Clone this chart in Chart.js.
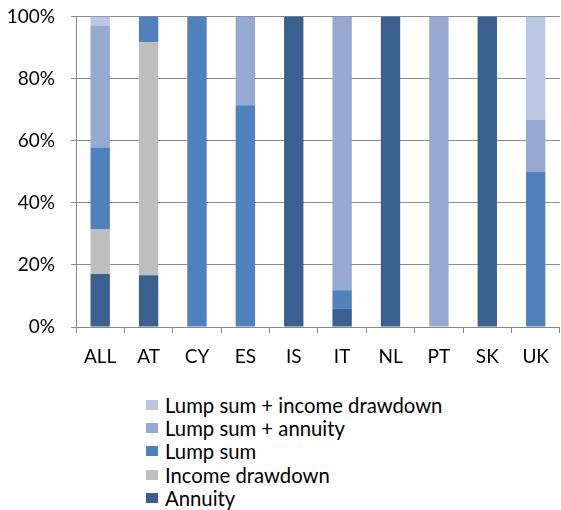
<!DOCTYPE html>
<html>
<head>
<meta charset="utf-8">
<script src="https://cdn.jsdelivr.net/npm/chart.js@4.4.1/dist/chart.umd.min.js"></script>
<style>
  html, body { margin: 0; padding: 0; background: #fff; overflow: hidden; }
  #wrap { position: relative; width: 561px; height: 510px; overflow: hidden; }
  #chartBox { position: absolute; left: 0; top: -11px; width: 561px; height: 391px; }
  #legend { position: absolute; left: 146px; top: 393px; font-family: Lato, "Noto Sans", sans-serif; font-size: 20.3px; color: #000; }
  .item { height: 23.4px; display: flex; align-items: center; white-space: nowrap; }
  .sw { width: 12px; height: 10px; margin-right: 7px; flex: none; }
</style>
</head>
<body>
<div id="wrap">
  <div id="chartBox"><canvas id="c"></canvas></div>
  <div id="legend"></div>
</div>
<script>
const categories = ['ALL', 'AT', 'CY', 'ES', 'IS', 'IT', 'NL', 'PT', 'SK', 'UK'];
const annuity        = [17.1, 16.7, 0,   0,    100, 5.9,  100, 0,   100, 0];
const incomeDrawdown = [14.3, 75.0, 0,   0,    0,   0,    0,   0,   0,   0];
const lumpSum        = [26.4, 8.3,  100, 71.4, 0,   5.9,  0,   0,   0,   50.0];
const lumpAnnuity    = [39.3, 0,    0,   28.6, 0,   88.2, 0,   100, 0,   16.7];
const lumpDrawdown   = [2.9,  0,    0,   0,    0,   0,    0,   0,   0,   33.3];
const yTicks = [0, 20, 40, 60, 80, 100];

const seriesNames = ['Annuity', 'Income drawdown', 'Lump sum', 'Lump sum + annuity', 'Lump sum + income drawdown'];
const seriesData = [annuity, incomeDrawdown, lumpSum, lumpAnnuity, lumpDrawdown];
const seriesColors = ['#3B5F8E', '#BEBEBE', '#4F81BD', '#95A9D1', '#BAC8E2'];

const datasets = seriesNames.map((n, i) => ({
  label: n,
  data: seriesData[i],
  backgroundColor: seriesColors[i],
  borderWidth: 0,
  barPercentage: 0.4,
  categoryPercentage: 1.0
}));

const FONT = { family: 'Lato, "Noto Sans", sans-serif', size: 19 };

new Chart(document.getElementById('c'), {
  type: 'bar',
  data: { labels: categories, datasets },
  options: {
    responsive: true,
    maintainAspectRatio: false,
    animation: false,
    layout: { padding: { top: 5, right: 1, left: 0, bottom: 0 } },
    plugins: { legend: { display: false }, tooltip: { enabled: false } },
    scales: {
      x: {
        stacked: true,
        grid: { offset: true, drawOnChartArea: false, drawTicks: true, tickLength: 6, color: '#888' },
        border: { color: '#888', width: 1 },
        ticks: { color: '#000', font: FONT, padding: 12, maxRotation: 0 },
        afterFit: s => { s.height = 53; }
      },
      y: {
        stacked: true,
        min: 0, max: 100,
        afterBuildTicks: s => { s.ticks = yTicks.map(v => ({ value: v })); },
        grid: { color: '#8C8C8C', lineWidth: 1, tickLength: 5 },
        border: { color: '#888', width: 1 },
        ticks: { color: '#000', font: FONT, padding: 16, callback: v => v + '%' },
        afterFit: s => { s.width = 76; }
      }
    }
  }
});

const leg = document.getElementById('legend');
for (let i = seriesNames.length - 1; i >= 0; i--) {
  const row = document.createElement('div');
  row.className = 'item';
  const sw = document.createElement('span');
  sw.className = 'sw';
  sw.style.background = seriesColors[i];
  const t = document.createElement('span');
  t.textContent = seriesNames[i];
  row.appendChild(sw); row.appendChild(t);
  leg.appendChild(row);
}
</script>
</body>
</html>
